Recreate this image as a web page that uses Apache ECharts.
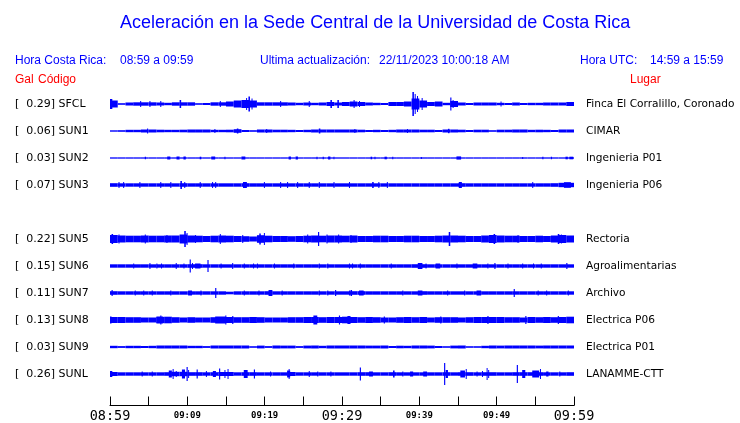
<!DOCTYPE html>
<html><head><meta charset="utf-8">
<script src="https://cdn.jsdelivr.net/npm/echarts@6/dist/echarts.min.js"></script>
<style>html,body{margin:0;padding:0;background:#fff}#c{width:740px;height:423px}</style>
</head><body><div id="c"></div>
<script>
// Station codes (blank slot = missing SUN4), peak acceleration (Gal), place names
const codes   = ['SFCL','SUN1','SUN2','SUN3','','SUN5','SUN6','SUN7','SUN8','SUN9','SUNL'];
const galPeak = [0.29, 0.06, 0.03, 0.07, null, 0.22, 0.15, 0.11, 0.13, 0.03, 0.26];
const lugares = ['Finca El Corralillo, Coronado','CIMAR','Ingenieria P01','Ingenieria P06','','Rectoria','Agroalimentarias','Archivo','Electrica P06','Electrica P01','LANAMME-CTT'];

// Time axis: minutes after 08:59 (Costa Rica), tick labels every 10 min
const tickMinutes = [0, 10, 20, 30, 40, 50, 60];
const tickLabels  = ['08:59','09:09','09:19','09:29','09:39','09:49','09:59'];
const majorLabels = ['08:59','09:29','09:59'];

// Envelope (half amplitude per minute, trace units where 27 = trace spacing)
const envSFCL = [3.5,0.8,1.5,1.7,1.7,1.7,1.5,1.2,1.7,1.7,1.7,0.8,1,1.7,1.7,2.5,3.5,4,3.5,1.7,1.7,1.7,1.7,1.5,1.2,1.5,1.2,1.5,2,1.5,2,2.5,2,1.5,1.2,1,2,2,2.5,5.5,3.5,2,2.5,1.2,3,1.5,1,1.5,1.5,1.5,1.2,1,1.5,1,1.2,1.2,1.5,1.5,1.5,2];
const envSUN1 = [0.7,0.8,1.2,1.2,1.5,1.5,1.3,1.2,1.2,1.3,1.5,1.5,1.5,1.2,1.2,1.3,1.8,1,0.8,1.5,1.5,1.3,1.3,1.2,1,1.2,1.5,1.5,1.5,1.5,1.5,1.5,1.3,1,1.2,1,1.2,1.5,1.5,1.5,1.3,1.3,1,1.5,1.5,1.3,1,1.3,1.3,0.8,1.3,1.3,1.5,1.5,1.2,1.3,1.2,1,1.5,1.5];
const envSUN2 = [0.65,0.65,0.65,0.65,0.65,0.65,0.65,0.65,0.65,0.65,0.65,0.65,0.65,0.65,0.65,0.65,0.65,0.65,0.65,0.65,0.65,0.65,0.65,0.65,0.65,0.65,0.65,0.65,0.65,0.65,0.65,0.65,0.65,0.65,0.65,0.65,0.65,0.65,0.65,0.65,0.65,0.65,0.65,0.65,0.65,0.65,0.65,0.65,0.65,0.65,0.65,0.65,0.65,0.65,0.65,0.65,0.65,0.65,0.65,0.65];
const envSUN3 = [1.8,1.7,1.7,1.7,1.7,1.7,1.7,1.7,1.7,1.8,1.7,1.7,1.7,1.7,1.7,1.7,1.7,1.8,1.7,1.7,1.7,1.7,1.7,1.7,1.7,1.7,1.7,1.7,1.7,1.7,1.7,1.7,1.7,1.7,1.7,1.7,1.7,1.7,1.7,1.7,1.7,1.7,1.7,1.7,1.7,1.8,1.7,1.7,1.7,1.7,1.7,1.7,1.7,1.7,1.7,1.7,1.7,1.8,2.2,2.2];
const envSUN5 = [4,3.5,3.3,3.3,3.5,3.3,3.3,3.5,3.5,4.5,3.5,3.3,3,3.3,3.5,3.3,3,2.8,2.5,3.8,3.3,3,3,2.8,3,3.3,3.5,3.3,3.5,3.5,3.3,3.5,3,3,3.3,3.3,3,3,3.3,3.3,3,3,3.3,3.5,3.5,3.3,3,3,3.5,4,3.5,3.3,3.3,3,3,3.3,3,3.5,4,3.5];
const envSUN6 = [1.7,1.7,1.7,1.7,1.7,1.7,1.7,1.7,1.7,1.7,1.8,1.8,1.7,1.7,1.7,1.7,1.7,1.7,1.7,1.7,1.7,1.7,1.7,1.7,1.7,1.7,1.7,1.7,1.7,1.7,1.7,1.7,1.7,1.7,1.7,1.7,1.7,1.7,1.7,1.8,1.8,1.7,1.7,1.7,1.7,1.7,1.7,1.7,1.7,1.7,1.7,1.7,1.7,1.7,1.7,1.7,1.7,1.7,1.7,1.7];
const envSUN7 = [1.8,1.7,1.7,1.7,1.7,1.7,1.7,1.7,1.7,1.7,1.7,1.7,1.7,1.7,1.7,1.3,1.7,1.7,1.7,1.7,1.8,1.7,1.7,1.7,1.7,1.7,1.7,1.7,1.7,1.7,1.7,1.8,1.8,1.7,1.7,1.7,1.7,1.7,1.7,1.7,1.8,1.7,1.7,1.7,1.7,1.7,1.7,1.7,1.7,1.7,1.7,1.7,1.7,1.7,1.7,1.7,1.7,1.7,1.7,1.7];
const envSUN8 = [3,3,2.8,2.8,2.5,2.5,3,3.3,2.8,2.5,2.8,2.5,2.5,2.8,3,3,2.8,2.8,3,2.8,2.5,2.5,2.5,2.8,2.8,3,3,2.8,3,3,3.3,3,2.8,3,2.8,2.5,2.5,2.8,3,2.8,3,2.5,2.8,2.8,2.8,2.5,2.8,3,3,3,3,2.8,2.8,2.5,3,2.8,3,2.8,3,3.3];
const envSUN9 = [1.2,0.9,1.2,1.2,1.0,1.2,1.5,1.5,1.5,1.5,1.2,1.2,0.9,1.5,1.5,1.5,1.5,1.5,0.8,1.4,0.9,1.5,1.4,1.4,0.9,1.4,1.5,1.2,1.5,1.5,1.5,1.5,1.5,1.4,1.4,1.5,1.0,1.3,1.2,1.5,1.5,1.4,1.0,0.8,1.4,1.5,0.8,0.8,1.2,1.5,1.4,1.5,1.5,1.5,1.5,1.4,1.5,1.5,1.5,1.5];
const envSUNL = [2,1.7,1.7,1.7,1.7,1.7,1.7,1.8,2.2,2.2,1.8,1.8,1.7,1.8,2,2,1.7,1.8,1.8,1.7,1.7,1.7,1.7,2,1.7,1.7,1.7,1.7,1.7,1.7,1.7,1.7,1.8,1.8,1.7,1.7,1.8,1.7,1.7,1.7,1.7,1.7,1.7,1.8,1.7,1.8,1.8,1.7,1.8,1.8,1.7,1.7,1.8,1.8,1.8,1.8,1.7,1.7,1.7,1.8];

// Spikes / bursts: [minute, half amplitude, duration in minutes]
const spkSFCL = [[0,5,0.3],[3.9,3,0.13],[5.1,3,0.13],[6.5,3,0.13],[9.0,4,0.2],[14.2,3,0.13],[17.6,6,0.13],[17.9,7.5,0.2],[18.3,5.5,0.13],[22.0,3,0.13],[25.7,3,0.13],[28.5,4,0.2],[29.4,4,0.2],[31.5,4,0.13],[32.2,3,0.13],[39.1,12,0.2],[39.4,10,0.13],[39.7,8,0.13],[40.3,6,0.13],[44.0,6.5,0.15],[44.3,4,0.13],[50.5,2.5,0.13]];
const spkSUN1 = [[4.8,2.5,0.13],[13.5,2,0.13],[16.4,2.5,0.2],[20.2,2,0.13],[27.0,2.5,0.2],[31.6,2,0.13],[38.4,2,0.13],[43.7,2.2,0.2]];
const spkSUN2 = [[4.5,1.3,0.15],[7.4,1.5,0.4],[8.6,1.5,0.4],[9.5,1.5,0.3],[11.6,1.3,0.2],[13.1,1.5,0.5],[14.8,1.2,0.1],[17.0,1.5,0.5],[23.1,1.5,0.3],[24.0,1.5,0.3],[26.7,1.2,0.1],[27.5,1.3,0.15],[28.2,1.5,0.3],[28.9,1.2,0.1],[33.7,1.3,0.2],[34.2,1.2,0.1],[35.5,1.3,0.3],[36.5,1.2,0.1],[40.2,1,0.1],[44.8,1.6,0.6],[53.3,1,0.1],[55.9,1.2,0.15],[57.0,1.2,0.15],[58.9,1.3,0.3],[59.4,1.3,0.5]];
const spkSUN3 = [[1.1,3,0.13],[1.7,3,0.13],[3.8,3,0.13],[6.5,3,0.13],[7.8,3,0.13],[9.1,4,0.2],[9.6,3,0.13],[11.6,3,0.13],[13.2,3,0.13],[13.6,3,0.13],[17.2,3,0.5],[19.9,3,0.13],[22.0,3,0.13],[22.9,3,0.13],[24.2,3,0.13],[25.7,3,0.13],[27.0,3,0.13],[28.9,3,0.13],[30.9,3,0.13],[33.9,3,0.2],[34.7,3,0.13],[35.8,3,0.13],[45.1,3,0.4],[54.6,3,0.13],[58.7,2.8,0.9]];
const spkSUN5 = [[0.2,5,0.2],[1.1,4.5,0.13],[4.5,4.5,0.13],[7.3,4,0.13],[9.6,8,0.2],[9.9,6,0.13],[11.0,4,0.13],[14.2,5,0.13],[17.1,4,0.13],[19.3,5.5,0.2],[19.9,6,0.13],[25.5,4.5,0.13],[26.9,7,0.15],[28.0,4.5,0.13],[29.5,4.5,0.13],[31.1,4,0.13],[43.8,7,0.2],[49.6,5,0.2],[52.7,4,0.13],[57.9,5,0.2],[58.3,4.5,0.13]];
const spkSUN6 = [[3.0,2.5,0.13],[5.1,3,0.13],[6.0,2.5,0.13],[6.6,2.5,0.13],[8.5,3,0.13],[9.5,2.5,0.13],[10.3,6.5,0.15],[10.6,3,0.13],[11.0,2.5,0.7],[12.6,6,0.15],[14.3,2.5,0.13],[15.8,3,0.13],[17.3,2.5,0.13],[18.5,2.5,0.13],[19.0,2.5,0.13],[21.2,2.5,0.13],[23.7,2.5,0.13],[27.0,2.5,0.13],[28.1,2.5,0.13],[30.9,2.5,0.13],[31.3,2.5,0.13],[32.3,2.5,0.13],[36.3,2.5,0.13],[39.8,3,0.6],[40.8,2.5,0.13],[42.1,2.5,0.6],[44.8,2.5,0.13],[46.9,2.5,0.6],[48.8,2.5,0.13],[49.7,3,0.15],[51.4,2.5,0.13],[53.3,2.5,0.13],[54.7,2.5,0.13],[55.7,2.5,0.13],[59.0,3,0.15]];
const spkSUN7 = [[0.2,3,0.15],[3.2,2.5,0.13],[4.3,2.5,0.13],[5.4,2.5,0.13],[7.8,2.5,0.13],[10.1,2.5,0.5],[11.7,2.5,0.13],[13.6,5,0.15],[17.3,2.5,0.13],[19.2,2.5,0.13],[20.5,3,0.5],[22.2,2.5,0.13],[27.0,2.5,0.13],[28.1,2.5,0.13],[29.1,3,0.15],[30.9,2.5,0.13],[31.1,3,0.2],[32.2,2.5,0.6],[37.8,2.5,0.13],[39.8,2.5,0.6],[43.6,2.5,0.13],[45.8,2.5,0.13],[47.4,2.5,0.6],[52.2,4,0.15],[55.3,2.5,0.13],[56.4,2.5,0.13],[59.2,2.5,0.13]];
const spkSUN8 = [[0,3.5,0.2],[6.0,3.5,0.9],[6.5,4.5,0.15],[13.6,3.5,1.3],[14.9,4.5,0.15],[15.8,4,0.15],[26.3,4.5,0.5],[29.6,4.5,0.15],[30.7,4,0.4],[35.4,3.5,0.15],[42.7,3.5,0.15],[48.8,4,0.15],[53.7,4,0.15],[57.9,4,0.15]];
const spkSUN9 = [];
const spkSUNL = [[0,3,0.3],[4.1,2.5,0.13],[5.4,2.5,0.13],[7.6,3.5,0.4],[8.1,5,0.13],[8.5,3,0.13],[9.3,4.5,0.4],[9.9,7,0.15],[10.1,4,0.13],[11.2,4.5,0.15],[12.4,3,0.13],[13.3,3,0.4],[14.1,5.5,0.15],[14.8,4,0.13],[15.2,5,0.13],[17.3,4,0.5],[18.6,4.5,0.15],[20.7,2.5,0.13],[22.9,3.5,0.4],[23.1,5,0.13],[25.7,3,0.13],[26.8,2.5,0.13],[28.5,2.5,0.13],[32.3,6.5,0.15],[33.5,2.5,0.5],[36.6,3.5,0.2],[37.8,2.5,0.13],[38.8,2.5,0.4],[40.5,2.5,0.5],[43.2,11,0.15],[43.4,4,0.3],[45.3,3.5,0.6],[46.0,5,0.13],[47.4,2.5,0.13],[48.1,3,0.13],[48.7,6,0.13],[48.9,4,0.13],[52.6,9,0.15],[53.3,4,0.4],[54.6,3.5,0.9],[55.6,5,0.13],[56.4,2.5,0.3],[58.1,2.5,0.13]];

const traceEnv = [envSFCL, envSUN1, envSUN2, envSUN3, null, envSUN5, envSUN6, envSUN7, envSUN8, envSUN9, envSUNL];
const traceSpk = [spkSFCL, spkSUN1, spkSUN2, spkSUN3, null, spkSUN5, spkSUN6, spkSUN7, spkSUN8, spkSUN9, spkSUNL];

const data = [];
traceEnv.forEach((env, slot) => {
  if (!env) return;
  env.forEach((a, m) => data.push([m, slot, a, 1]));
  traceSpk[slot].forEach(s => data.push([s[0], slot, s[1], s[2]]));
});

const BLUE = '#0000ff';
const chart = echarts.init(document.getElementById('c'), null, {renderer: 'canvas'});
const hdr = {fontFamily: 'Liberation Sans', fontSize: 12, fill: BLUE};
const red = {fontFamily: 'Liberation Sans', fontSize: 12, fill: '#ff0000'};
function txt(x, y, s, st) { return {type: 'text', x: x, y: y, style: Object.assign({text: s, textVerticalAlign: 'middle'}, st)}; }

chart.setOption({
  animation: false,
  grid: [
    {left: 110, right: 166, top: 90.5, height: 297},
    {left: 110, right: 166, top: 395, height: 14}
  ],
  xAxis: [
    {gridIndex: 0, type: 'value', min: 0, max: 60, show: false},
    {gridIndex: 1, type: 'value', min: 0, max: 60, interval: 5,
     axisLine: {show: true, lineStyle: {color: '#000', width: 1}},
     axisTick: {show: true, inside: true, length: 9, lineStyle: {color: '#000'}},
     splitLine: {show: false},
     axisLabel: {
       margin: 3, color: '#000',
       formatter: function (v) {
         const i = tickMinutes.indexOf(v);
         if (i < 0) return '';
         const lab = tickLabels[i];
         return majorLabels.indexOf(lab) >= 0 ? '{big|' + lab + '}' : '{small|' + lab + '}';
       },
       rich: {
         big: {fontFamily: 'DejaVu Sans Mono', fontSize: 13.5, color: '#000', lineHeight: 15},
         small: {fontFamily: 'DejaVu Sans Mono', fontSize: 9, fontWeight: 'bold', color: '#000', lineHeight: 15}
       }
     }}
  ],
  yAxis: [
    {gridIndex: 0, type: 'category', inverse: true, data: codes, position: 'left',
     axisLine: {show: false}, axisTick: {show: false}, splitLine: {show: false},
     axisLabel: {align: 'left', margin: 95, color: '#000', fontFamily: 'DejaVu Sans', fontSize: 11,
       formatter: function (v, i) { return v ? '[  ' + galPeak[i].toFixed(2) + '] ' + v : ''; }}},
    {gridIndex: 0, type: 'category', inverse: true, data: lugares, position: 'right',
     axisLine: {show: false}, axisTick: {show: false}, splitLine: {show: false},
     axisLabel: {margin: 12, color: '#000', fontFamily: 'DejaVu Sans', fontSize: 10.6}},
    {gridIndex: 1, type: 'value', min: 0, max: 1, show: false}
  ],
  series: [{
    type: 'custom', xAxisIndex: 0, yAxisIndex: 0, silent: true,
    encode: {x: 0, y: 1},
    data: data,
    renderItem: function (params, api) {
      const t = api.value(0), slot = api.value(1), amp = api.value(2), dur = api.value(3);
      const p0 = api.coord([t, slot]);
      const p1 = api.coord([t + dur, slot]);
      const k = api.size([0, 1])[1] / 27;
      const h = Math.max(amp * 2 * k, 1);
      return {type: 'rect', shape: {x: p0[0], y: p0[1] - h / 2, width: Math.max(p1[0] - p0[0], 1), height: h},
              style: {fill: BLUE}};
    }
  }],
  graphic: [
    txt(120, 23.5, 'Aceleración en la Sede Central de la Universidad de Costa Rica', {fontFamily: 'Liberation Sans', fontSize: 18, fill: BLUE}),
    txt(15, 61, 'Hora Costa Rica:', hdr),
    txt(120, 61, '08:59 a 09:59', hdr),
    txt(260, 61, 'Ultima actualización:', hdr),
    txt(379, 61, '22/11/2023 10:00:18 AM', hdr),
    txt(580, 61, 'Hora UTC:', hdr),
    txt(650, 61, '14:59 a 15:59', hdr),
    txt(15, 80, 'Gal', red),
    txt(38, 80, 'Código', red),
    txt(630, 80, 'Lugar', red)
  ]
});
</script></body></html>
